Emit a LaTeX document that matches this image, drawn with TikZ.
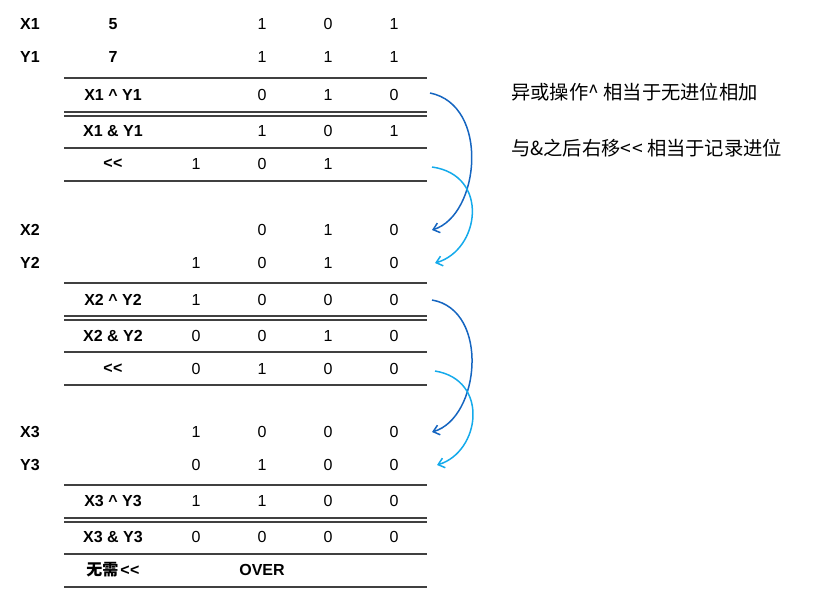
\documentclass[tikz,border=0pt]{standalone}
\usepackage{fontspec}
\setmainfont{Liberation Sans}[Ligatures=NoCommon]
\newfontfamily\cjk{Noto Sans CJK SC}
\usetikzlibrary{arrows.meta}
\begin{document}
\begin{tikzpicture}[x=1pt,y=-1pt,
  lab/.style={font=\fontsize{16}{18}\selectfont\bfseries,anchor=center,inner sep=0},
  num/.style={font=\fontsize{16}{18}\selectfont,anchor=center,inner sep=0},
  note/.style={font=\cjk\fontsize{19.3}{22}\selectfont,anchor=west,inner sep=0},
  rule/.style={draw=black!75,line width=1.2pt},
  dk/.style={draw={rgb,255:red,21;green,101;blue,192},line width=1.5pt,-{Straight Barb[length=6pt,width=10pt]}},
  lt/.style={draw={rgb,255:red,20;green,170;blue,235},line width=1.5pt,-{Straight Barb[length=6pt,width=10pt]}}]
\useasboundingbox (0,0) rectangle (818,597);
\def\cA{196}\def\cB{262}\def\cC{328}\def\cD{394}
\def\ll{<\kern0.5pt<}
% left labels
\node[lab] (x1) at (30,24) {X1}; \node[lab] (x1v) at (113,24) {5};
\node[lab] (y1) at (30,57) {Y1}; \node[lab] (y1v) at (113,57) {7};
\node[num] at (\cB,24) {1};\node[num] at (\cC,24) {0};\node[num] at (\cD,24) {1};
\node[num] at (\cB,57) {1};\node[num] at (\cC,57) {1};\node[num] at (\cD,57) {1};
% block 1
\draw[rule] (64,78) -- (427,78);
\node[lab] at (113,95) {X1 \^{} Y1};
\node[num] at (\cB,95) {0};\node[num] at (\cC,95) {1};\node[num] (a1) at (\cD,95) {0};
\draw[rule] (64,112) -- (427,112); \draw[rule] (64,116) -- (427,116);
\node[lab] at (113,131) {X1 \& Y1};
\node[num] at (\cB,131) {1};\node[num] at (\cC,131) {0};\node[num] at (\cD,131) {1};
\draw[rule] (64,148) -- (427,148);
\node[lab] at (113,164) {\ll};
\node[num] at (\cA,164) {1};\node[num] at (\cB,164) {0};\node[num] at (\cC,164) {1};
\coordinate (s1) at (432,167);
\draw[rule] (64,181) -- (427,181);
\node[lab] at (30,230) {X2};
\node[num] at (\cB,230) {0};\node[num] at (\cC,230) {1};\node[num] (b1) at (\cD,230) {0};
\node[lab] at (30,263) {Y2};
\node[num] at (\cA,263) {1};\node[num] at (\cB,263) {0};\node[num] at (\cC,263) {1};\node[num] (c1) at (\cD,263) {0};
% block 2
\draw[rule] (64,283) -- (427,283);
\node[lab] at (113,300) {X2 \^{} Y2};
\node[num] at (\cA,300) {1};\node[num] at (\cB,300) {0};\node[num] at (\cC,300) {0};\node[num] (a2) at (\cD,300) {0};
\draw[rule] (64,316) -- (427,316); \draw[rule] (64,320) -- (427,320);
\node[lab] at (113,336) {X2 \& Y2};
\node[num] at (\cA,336) {0};\node[num] at (\cB,336) {0};\node[num] at (\cC,336) {1};\node[num] at (\cD,336) {0};
\draw[rule] (64,352) -- (427,352);
\node[lab] at (113,369) {\ll};
\node[num] at (\cA,369) {0};\node[num] at (\cB,369) {1};\node[num] at (\cC,369) {0};\node[num] at (\cD,369) {0};
\coordinate (s2) at (435,371);
\draw[rule] (64,385) -- (427,385);
\node[lab] at (30,432) {X3};
\node[num] at (\cA,432) {1};\node[num] at (\cB,432) {0};\node[num] at (\cC,432) {0};\node[num] (b2) at (\cD,432) {0};
\node[lab] at (30,465) {Y3};
\node[num] at (\cA,465) {0};\node[num] at (\cB,465) {1};\node[num] at (\cC,465) {0};\node[num] (c2) at (\cD,465) {0};
% block 3
\draw[rule] (64,485) -- (427,485);
\node[lab] at (113,501) {X3 \^{} Y3};
\node[num] at (\cA,501) {1};\node[num] at (\cB,501) {1};\node[num] at (\cC,501) {0};\node[num] at (\cD,501) {0};
\draw[rule] (64,518) -- (427,518); \draw[rule] (64,522) -- (427,522);
\node[lab] at (113,537) {X3 \& Y3};
\node[num] at (\cA,537) {0};\node[num] at (\cB,537) {0};\node[num] at (\cC,537) {0};\node[num] at (\cD,537) {0};
\draw[rule] (64,554) -- (427,554);
\node[lab] at (113,570) {{\cjk 无需}\kern2pt\ll};
\node[lab] at (262,570) {OVER};
\draw[rule] (64,587) -- (427,587);
% arrows
\draw[dk] ([xshift=36pt,yshift=2pt]a1.center) .. controls (490,105) and (480,215) .. ([xshift=38pt]b1.center);
\draw[lt] (s1) .. controls (490,175) and (480,250) .. ([xshift=41pt]c1.center);
\draw[dk] ([xshift=38pt]a2.center) .. controls (490,310) and (480,418) .. ([xshift=38pt]b2.center);
\draw[lt] (s2) .. controls (490,380) and (480,452) .. ([xshift=43pt]c2.center);
% notes
\node[note] (n1) at (511,92) {异或操作\^{} 相当于无进位相加};
\node[note] (n2) at (511,148) {与\&之后右移<\kern0.5pt< 相当于记录进位};
\end{tikzpicture}
\end{document}
